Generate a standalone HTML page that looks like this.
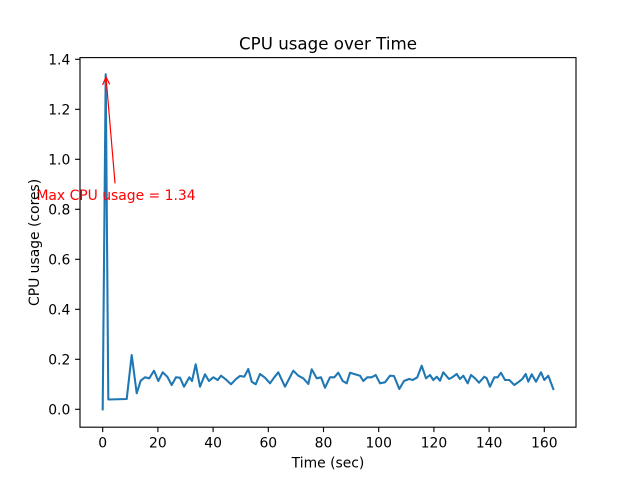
<!DOCTYPE html>
<html>
<head>
<meta charset="utf-8">
<style>
html,body{margin:0;padding:0;background:#fff;}
svg{display:block;}
text{font-family:"DejaVu Sans","Liberation Sans",sans-serif;}
</style>
</head>
<body>
<svg width="640" height="480" viewBox="0 0 640 480" xmlns="http://www.w3.org/2000/svg">
<rect x="0" y="0" width="640" height="480" fill="#fff"/>
<!-- data line -->
<polyline fill="none" stroke="#1f77b4" stroke-width="2.08" stroke-linejoin="round" stroke-linecap="square" points="
102.7,409.3 105.7,74.3 108.3,399.5 126.7,399 131.7,355 136.7,393.3 140.7,380.7 145,377.3 149.3,378.3 154,370.7 158.3,381 162.7,372.3 167.3,376.7 171.7,385 176,377.3 180,377.7 184,386.7 189.3,377.3 192,381 195.7,364.3 200,386.7 205,374.3 209,381 213.3,377.3 217.7,380 221,375.7 225.7,379.3 231,384.3 235.7,379.3 240,376 244.3,376.7 248.3,369 251.7,381.7 255.7,384.3 260,374 265,377.7 270,383.3 274.3,377.3 278.3,372.3 285,386.7 293.3,370.7 298.3,375.7 303.3,378.3 308.3,384 311.7,369.3 316.7,378.3 321,377.3 325,387.7 330,377.3 334.3,377.3 338.3,372.7 342.7,381 346.7,383.3 350,372.7 355,374.3 360,375.7 363.3,381 367.3,377.3 371.7,377.3 375.7,375 380,383.3 385,382.3 390,375.7 394,376 399.3,389 404,381 409,379 412.7,380 417.3,377.3 421.7,365.7 426,378.3 430,375 433.3,380 436.7,376.7 440,380.7 443.3,372.3 449,379 452.3,377.3 456.7,374 460,379 463.3,375.7 467.7,383.3 471,375 475,378.3 479,382.7 484.3,376.7 486.7,378.3 490,386.7 494.3,377.3 497.7,377.3 501,372.7 505,380 509.3,380 514.3,385 519,381.7 522.3,379 525.7,374 528.3,381.7 531.7,374.3 536,381.7 541,372.3 544.3,380 548.3,375.7 553.3,389"/>
<!-- annotation arrow -->
<g stroke="#ff0000" stroke-width="1.2" fill="none" stroke-linecap="round">
<line x1="115" y1="183" x2="106" y2="77"/>
<polyline points="102.8,84.5 106,77 109.5,84"/>
</g>
<text x="116" y="200" font-size="13.9" fill="#ff0000" text-anchor="middle">Max CPU usage = 1.34</text>
<!-- axes frame -->
<rect x="80" y="57.6" width="496" height="369.6" fill="none" stroke="#000" stroke-width="1.11"/>
<!-- x ticks -->
<g stroke="#000" stroke-width="1.11">
<line x1="102.7" y1="427.2" x2="102.7" y2="432.1"/>
<line x1="157.9" y1="427.2" x2="157.9" y2="432.1"/>
<line x1="213.1" y1="427.2" x2="213.1" y2="432.1"/>
<line x1="268.3" y1="427.2" x2="268.3" y2="432.1"/>
<line x1="323.5" y1="427.2" x2="323.5" y2="432.1"/>
<line x1="378.7" y1="427.2" x2="378.7" y2="432.1"/>
<line x1="433.9" y1="427.2" x2="433.9" y2="432.1"/>
<line x1="489.1" y1="427.2" x2="489.1" y2="432.1"/>
<line x1="544.3" y1="427.2" x2="544.3" y2="432.1"/>
</g>
<g font-size="13.9" fill="#000" text-anchor="middle">
<text x="102.7" y="447.5">0</text>
<text x="157.9" y="447.5">20</text>
<text x="213.1" y="447.5">40</text>
<text x="268.3" y="447.5">60</text>
<text x="323.5" y="447.5">80</text>
<text x="378.7" y="447.5">100</text>
<text x="433.9" y="447.5">120</text>
<text x="489.1" y="447.5">140</text>
<text x="544.3" y="447.5">160</text>
</g>
<!-- y ticks -->
<g stroke="#000" stroke-width="1.11">
<line x1="75.1" y1="409.3" x2="80" y2="409.3"/>
<line x1="75.1" y1="359.3" x2="80" y2="359.3"/>
<line x1="75.1" y1="309.3" x2="80" y2="309.3"/>
<line x1="75.1" y1="259.3" x2="80" y2="259.3"/>
<line x1="75.1" y1="209.3" x2="80" y2="209.3"/>
<line x1="75.1" y1="159.3" x2="80" y2="159.3"/>
<line x1="75.1" y1="109.3" x2="80" y2="109.3"/>
<line x1="75.1" y1="59.3" x2="80" y2="59.3"/>
</g>
<g font-size="13.9" fill="#000" text-anchor="end">
<text x="70.3" y="414.4">0.0</text>
<text x="70.3" y="364.4">0.2</text>
<text x="70.3" y="314.4">0.4</text>
<text x="70.3" y="264.4">0.6</text>
<text x="70.3" y="214.4">0.8</text>
<text x="70.3" y="164.4">1.0</text>
<text x="70.3" y="114.4">1.2</text>
<text x="70.3" y="64.4">1.4</text>
</g>
<!-- labels -->
<text x="328" y="467.5" font-size="13.9" fill="#000" text-anchor="middle">Time (sec)</text>
<text transform="translate(39,242.4) rotate(-90)" x="0" y="0" font-size="13.9" fill="#000" text-anchor="middle">CPU usage (cores)</text>
<text x="328" y="49.3" font-size="16.67" fill="#000" text-anchor="middle">CPU usage over Time</text>
</svg>
</body>
</html>
